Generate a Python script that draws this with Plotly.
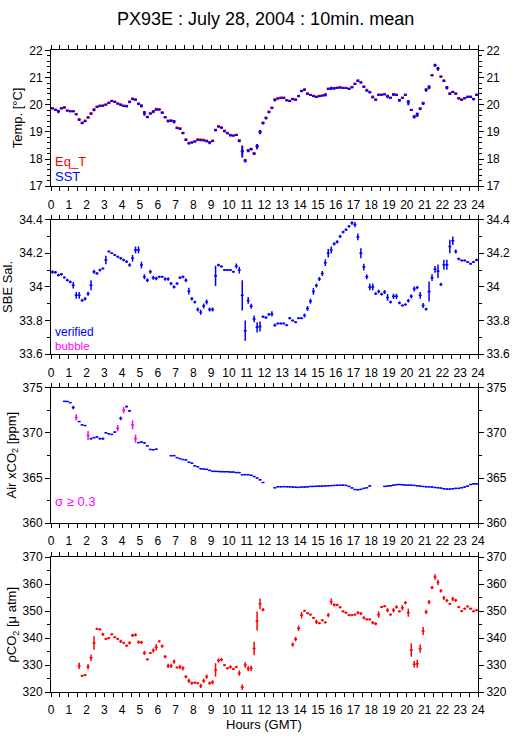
import plotly.graph_objects as go

# 10-minute means: bin centres in hours (GMT)
HOURS = [(i + 0.5) / 6 for i in range(144)]
HALF_BIN = 1 / 12

EQ_T = [19.88, 19.83, 19.78, 19.88, 19.92, 19.80, 19.77, 19.77, 19.66, 19.48, 19.35, 19.42,
        19.55, 19.70, 19.84, 19.94, 19.97, 19.98, 20.02, 20.08, 20.15, 20.12, 20.06, 20.02,
        19.97, 19.96, 20.12, 20.23, 20.20, 20.05, 19.98, 19.73, 19.56, 19.70, 19.77, 19.85,
        19.84, 19.72, 19.55, 19.42, 19.43, 19.40, 19.16, 19.14, 18.97, 18.73, 18.60, 18.63,
        18.67, 18.73, 18.72, 18.71, 18.68, 18.63, 18.68, 19.08, 19.22, 19.17, 19.05, 18.97,
        18.90, 18.88, 18.90, 18.70, 18.30, 17.97, 18.33, 18.38, 18.22, 18.48, 19.02, 19.35,
        19.53, 19.75, 19.90, 20.20, 20.25, 20.27, 20.27, 20.18, 20.15, 20.22, 20.20, 20.33,
        20.52, 20.57, 20.42, 20.37, 20.33, 20.30, 20.33, 20.35, 20.38, 20.60, 20.62, 20.62,
        20.64, 20.65, 20.63, 20.63, 20.60, 20.66, 20.78, 20.90, 20.84, 20.68, 20.55, 20.48,
        20.30, 20.20, 20.38, 20.38, 20.40, 20.33, 20.27, 20.40, 20.38, 20.18, 20.27, 20.38,
        20.12, 19.82, 19.58, 19.67, 19.87, 20.07, 20.57, 20.67, 21.10, 21.47, 21.35, 21.05,
        20.90, 20.65, 20.42, 20.48, 20.42, 20.25, 20.20, 20.25, 20.30, 20.30, 20.22, 20.38]

SST = [19.86, 19.81, 19.75, 19.86, 19.89, 19.78, 19.75, 19.75, 19.64, 19.44, 19.32, 19.39,
       19.52, 19.66, 19.80, 19.91, 19.95, 19.96, 20.00, 20.06, 20.13, 20.10, 20.04, 19.99,
       19.95, 19.94, 20.10, 20.21, 20.18, 20.03, 19.95, 19.68, 19.54, 19.67, 19.74, 19.82,
       19.82, 19.70, 19.53, 19.39, 19.41, 19.37, 19.14, 19.11, 18.95, 18.70, 18.57, 18.60,
       18.64, 18.70, 18.69, 18.68, 18.65, 18.60, 18.66, 19.06, 19.19, 19.15, 19.02, 18.94,
       18.87, 18.86, 18.88, 18.66, 18.28, 17.93, 18.30, 18.36, 18.19, 18.46, 18.99, 19.32,
       19.50, 19.72, 19.87, 20.17, 20.22, 20.25, 20.25, 20.16, 20.13, 20.20, 20.18, 20.31,
       20.50, 20.55, 20.40, 20.35, 20.31, 20.28, 20.31, 20.33, 20.36, 20.58, 20.60, 20.60,
       20.62, 20.63, 20.61, 20.61, 20.58, 20.64, 20.76, 20.87, 20.81, 20.65, 20.52, 20.45,
       20.27, 20.18, 20.36, 20.36, 20.38, 20.30, 20.25, 20.37, 20.36, 20.16, 20.25, 20.36,
       20.08, 19.80, 19.55, 19.63, 19.85, 20.04, 20.54, 20.64, 21.08, 21.45, 21.32, 21.03,
       20.87, 20.62, 20.40, 20.46, 20.40, 20.23, 20.18, 20.23, 20.28, 20.28, 20.20, 20.36]

SST_STD = [0.03, 0.03, 0.06, 0.03, 0.03, 0.03, 0.03, 0.03, 0.03, 0.04, 0.04, 0.03,
           0.03, 0.04, 0.04, 0.03, 0.03, 0.03, 0.03, 0.03, 0.03, 0.03, 0.03, 0.03,
           0.03, 0.03, 0.04, 0.04, 0.03, 0.04, 0.05, 0.08, 0.04, 0.03, 0.05, 0.04,
           0.03, 0.04, 0.03, 0.04, 0.04, 0.06, 0.03, 0.04, 0.04, 0.03, 0.03, 0.03,
           0.03, 0.03, 0.03, 0.03, 0.03, 0.05, 0.03, 0.04, 0.03, 0.04, 0.03, 0.03,
           0.04, 0.03, 0.03, 0.04, 0.22, 0.06, 0.05, 0.04, 0.04, 0.10, 0.08, 0.05,
           0.04, 0.03, 0.03, 0.05, 0.03, 0.03, 0.03, 0.03, 0.03, 0.03, 0.03, 0.03,
           0.04, 0.04, 0.03, 0.03, 0.03, 0.03, 0.03, 0.03, 0.06, 0.04, 0.06, 0.05,
           0.03, 0.03, 0.03, 0.03, 0.03, 0.03, 0.03, 0.03, 0.03, 0.03, 0.04, 0.03,
           0.03, 0.03, 0.04, 0.03, 0.03, 0.06, 0.03, 0.05, 0.03, 0.05, 0.03, 0.03,
           0.10, 0.03, 0.06, 0.08, 0.05, 0.05, 0.06, 0.07, 0.03, 0.05, 0.07, 0.03,
           0.03, 0.06, 0.04, 0.03, 0.03, 0.04, 0.03, 0.03, 0.03, 0.03, 0.04, 0.03]

SAL = [34.089, 34.087, 34.070, 34.075, 34.056, 34.040, 34.030, 34.010, 33.950, 33.950, 33.920, 33.930,
       33.960, 34.010, 34.090, 34.080, 34.100, 34.110, 34.160, 34.210, 34.200, 34.190, 34.180, 34.170,
       34.160, 34.150, 34.130, 34.170, 34.220, 34.220, 34.130, 34.060, 34.040, 34.090, 34.055, 34.050,
       34.060, 34.060, 34.047, 34.047, 34.020, 34.000, 34.020, 34.055, 34.060, 34.040, 33.975, 33.930,
       33.910, 33.866, 33.850, 33.887, 33.910, 33.866, 33.866, 34.066, 34.130, 34.122, 34.100, 34.100,
       34.100, 34.090, 34.124, 34.100, 33.950, 33.740, 33.920, 33.885, 33.810, 33.760, 33.765, 33.823,
       33.818, 33.837, 33.840, 33.773, 33.783, 33.783, 33.783, 33.773, 33.814, 33.800, 33.790, 33.814,
       33.814, 33.830, 33.872, 33.915, 33.973, 34.008, 34.047, 34.080, 34.144, 34.200, 34.220, 34.256,
       34.268, 34.300, 34.326, 34.340, 34.360, 34.380, 34.370, 34.297, 34.200, 34.118, 34.060, 34.000,
       34.000, 33.960, 33.973, 33.957, 33.970, 33.938, 33.910, 33.944, 33.944, 33.905, 33.890, 33.895,
       33.918, 33.944, 33.988, 33.996, 33.950, 33.890, 33.868, 33.973, 34.055, 34.105, 34.093, 34.015,
       34.132, 34.132, 34.240, 34.274, 34.210, 34.167, 34.157, 34.157, 34.148, 34.138, 34.148, 34.160]

SAL_STD = [0.010, 0.008, 0.008, 0.008, 0.006, 0.008, 0.008, 0.020, 0.020, 0.020, 0.008, 0.010,
           0.012, 0.030, 0.012, 0.008, 0.008, 0.006, 0.025, 0.006, 0.004, 0.006, 0.006, 0.008,
           0.008, 0.008, 0.010, 0.020, 0.020, 0.020, 0.020, 0.015, 0.012, 0.012, 0.012, 0.010,
           0.006, 0.006, 0.010, 0.010, 0.010, 0.010, 0.008, 0.008, 0.008, 0.012, 0.020, 0.010,
           0.008, 0.012, 0.015, 0.015, 0.015, 0.012, 0.012, 0.060, 0.008, 0.006, 0.006, 0.006,
           0.006, 0.006, 0.015, 0.020, 0.090, 0.060, 0.020, 0.015, 0.020, 0.030, 0.030, 0.008,
           0.008, 0.008, 0.015, 0.010, 0.006, 0.006, 0.006, 0.006, 0.008, 0.006, 0.006, 0.006,
           0.006, 0.012, 0.015, 0.015, 0.020, 0.012, 0.012, 0.015, 0.020, 0.025, 0.020, 0.010,
           0.010, 0.010, 0.008, 0.008, 0.008, 0.010, 0.015, 0.020, 0.030, 0.020, 0.015, 0.020,
           0.020, 0.008, 0.010, 0.008, 0.012, 0.020, 0.008, 0.015, 0.015, 0.008, 0.006, 0.006,
           0.010, 0.012, 0.015, 0.010, 0.020, 0.015, 0.008, 0.060, 0.020, 0.020, 0.040, 0.010,
           0.030, 0.030, 0.040, 0.025, 0.012, 0.008, 0.006, 0.006, 0.006, 0.006, 0.006, 0.008]

N = None
XCO2 = [N, N, N, N, 373.51, 373.50, 373.37, 372.82, 371.73, 371.26, 370.90, 370.82,
        369.73, 369.37, 369.48, 369.55, 369.37, 369.37, 370.02, 369.91, 369.84, 370.10, 370.53, 371.62,
        372.53, 372.93, 372.46, 370.90, 369.37, 368.93, 369.00, 368.90, 368.57, 368.17, 368.14, 368.20,
        N, N, N, N, 367.48, 367.48, 367.26, 367.15, 367.05, 367.01, 366.75, 366.65,
        366.36, 366.25, 366.03, 365.99, 365.96, 365.85, 365.74, 365.74, 365.72, 365.70, 365.70, 365.70,
        365.66, 365.66, 365.60, 365.60, 365.37, 365.37, 365.37, 365.30, 365.16, 365.00, 364.80, 364.50,
        N, N, N, 363.92, 364.03, 364.03, 364.04, 364.03, 364.02, 364.00, 363.98, 363.96,
        364.00, 364.00, 364.02, 364.06, 364.07, 364.08, 364.10, 364.10, 364.12, 364.14, 364.15, 364.18,
        364.19, 364.20, 364.21, 364.18, 364.07, 363.90, 363.72, 363.70, 363.74, 363.85, 363.92, 364.12,
        N, N, N, N, 364.07, 364.10, 364.14, 364.20, 364.26, 364.28, 364.25, 364.22,
        364.21, 364.20, 364.18, 364.14, 364.10, 364.06, 364.03, 364.02, 364.00, 363.95, 363.92, 363.88,
        363.80, 363.78, 363.78, 363.80, 363.85, 363.85, 363.92, 364.00, 364.10, 364.28, 364.35, 364.35]

XCO2_STD = [N, N, N, N, 0.05, 0.05, 0.05, 0.20, 0.35, 0.05, 0.05, 0.05,
            0.50, 0.10, 0.05, 0.05, 0.10, 0.12, 0.05, 0.05, 0.05, 0.05, 0.35, 0.20,
            0.35, 0.10, 0.10, 0.50, 0.45, 0.05, 0.05, 0.05, 0.05, 0.05, 0.05, 0.05,
            N, N, N, N, 0.05, 0.05, 0.05, 0.05, 0.05, 0.05, 0.05, 0.05,
            0.05, 0.05, 0.05, 0.05, 0.05, 0.05, 0.05, 0.05, 0.05, 0.05, 0.05, 0.05,
            0.05, 0.05, 0.05, 0.05, 0.05, 0.05, 0.05, 0.05, 0.05, 0.05, 0.05, 0.05,
            N, N, N, 0.05, 0.05, 0.05, 0.05, 0.05, 0.05, 0.05, 0.05, 0.05,
            0.05, 0.05, 0.05, 0.05, 0.05, 0.05, 0.05, 0.05, 0.05, 0.05, 0.05, 0.05,
            0.05, 0.05, 0.05, 0.05, 0.05, 0.05, 0.05, 0.05, 0.05, 0.05, 0.05, 0.05,
            N, N, N, N, 0.05, 0.05, 0.05, 0.05, 0.05, 0.05, 0.05, 0.05,
            0.05, 0.05, 0.05, 0.05, 0.05, 0.05, 0.05, 0.05, 0.05, 0.05, 0.05, 0.05,
            0.05, 0.05, 0.05, 0.05, 0.05, 0.05, 0.05, 0.05, 0.05, 0.05, 0.05, 0.05]
SIGMA_LIMIT = 0.3

PCO2 = [N, N, N, N, N, N, N, N, N, 329.7, 326.05, 326.3,
        329.4, 332.7, 338.2, 343.4, 343.2, 341.4, 339.7, 340.0, 341.4, 340.3, 339.7, 338.8,
        338.2, 337.2, 338.2, 341.0, 341.2, 338.5, 338.4, 334.5, 332.1, 334.5, 335.4, 336.6,
        338.8, 337.0, 333.1, 329.7, 329.7, 331.3, 329.1, 329.3, 328.8, 325.7, 324.2, 323.3,
        323.5, 323.3, 322.3, 324.2, 325.7, 323.3, 323.6, 328.2, 331.7, 332.0, 330.0, 328.8,
        329.3, 328.5, 329.3, 327.0, 321.8, 330.0, 328.7, 328.8, 336.1, 346.3, 352.7, 350.5,
        N, N, N, N, N, N, N, N, N, 337.6, 339.6, 343.6,
        348.5, 350.1, 349.2, 348.7, 347.5, 346.0, 345.5, 346.6, 345.8, 348.5, 353.5, 352.3,
        352.3, 351.4, 349.9, 349.4, 348.5, 348.5, 348.7, 349.4, 349.1, 347.5, 346.9, 346.9,
        345.7, 345.3, 348.7, 351.5, 351.8, 350.3, 348.7, 350.3, 351.5, 349.9, 351.2, 353.1,
        349.4, 335.6, 330.3, 330.5, 336.1, 342.6, 349.7, 353.3, 358.7, 362.6, 360.6, 357.5,
        354.9, 353.9, 352.7, 354.5, 354.0, 351.5, 350.0, 350.9, 351.7, 350.9, 349.9, 350.3]

PCO2_STD = [N, N, N, N, N, N, N, N, N, 1.2, 0.4, 0.4,
            1.0, 1.2, 2.5, 0.4, 0.4, 0.6, 0.4, 0.4, 0.4, 0.4, 0.4, 0.6,
            0.4, 0.4, 0.6, 0.6, 0.6, 0.6, 0.6, 0.8, 0.4, 0.4, 0.8, 1.2,
            0.4, 0.6, 0.6, 0.8, 0.8, 0.8, 0.4, 0.8, 0.8, 0.6, 0.8, 0.6,
            0.4, 0.4, 0.8, 0.8, 0.8, 0.6, 0.8, 2.5, 0.8, 0.6, 0.4, 0.4,
            0.6, 0.4, 0.4, 1.0, 1.0, 1.0, 1.0, 1.0, 2.5, 3.5, 2.0, 0.6,
            N, N, N, N, N, N, N, N, N, 0.8, 0.8, 1.0,
            1.2, 0.4, 0.4, 0.4, 0.4, 0.8, 0.4, 0.4, 0.4, 0.8, 1.2, 0.6,
            0.4, 0.4, 0.4, 0.4, 0.4, 0.4, 0.4, 0.6, 0.6, 0.6, 0.4, 0.4,
            0.6, 0.6, 1.2, 0.4, 0.4, 0.8, 0.4, 0.8, 0.6, 0.4, 1.0, 0.6,
            1.5, 2.5, 1.2, 1.5, 1.5, 1.5, 0.8, 0.8, 0.6, 1.0, 1.0, 0.6,
            0.8, 0.6, 0.4, 0.8, 0.6, 0.4, 0.4, 0.4, 0.4, 0.4, 0.4, 0.4]

X_TICKS = list(range(0, 25))
PANELS = [
    dict(range=[17, 22], dtick=1, minor=0.2, title="Temp. [°C]", title_x=17),
    dict(range=[33.6, 34.4], dtick=0.2, minor=0.1, title="SBE Sal.", title_x=8),
    dict(range=[360, 375], dtick=5, minor=2.5, title="Air xCO<sub>2</sub> [ppm]", title_x=12),
    dict(range=[320, 370], dtick=10, minor=5, title="ρCO<sub>2</sub> [μ atm]", title_x=13),
]

RED, BLUE, MAGENTA = "#ff0000", "#0000ff", "#ff00ff"
FONT = "Liberation Sans, Arial, sans-serif"
W, H = 515, 739
L, R = 51, 37
PANEL_PX = [(44.3, 182.7), (216.7, 354.0), (388.3, 526.0), (560.7, 698.3)]


def crosses(x, y, color, yerr=None, axis=1, xthick=1.5, ythick=1.5):
    tr = dict(
        x=x, y=y, mode="markers", showlegend=False, hoverinfo="skip",
        marker=dict(size=1, color=color),
        error_x=dict(type="constant", value=HALF_BIN, width=0, thickness=xthick, color=color),
        xaxis="x" if axis == 1 else f"x{axis}",
        yaxis="y" if axis == 1 else f"y{axis}",
    )
    if yerr is not None:
        tr["error_y"] = dict(type="data", array=yerr, width=0, thickness=ythick, color=color)
    return go.Scatter(**tr)


fig = go.Figure()
fig.add_trace(crosses(HOURS, EQ_T, RED, axis=1, xthick=2))
fig.add_trace(crosses(HOURS, SST, BLUE, SST_STD, axis=1, xthick=1.5, ythick=2))
fig.add_trace(crosses(HOURS, SAL, BLUE, SAL_STD, axis=2))

ok_v = [v if (s is not None and s < SIGMA_LIMIT) else None for v, s in zip(XCO2, XCO2_STD)]
ok_s = [s if (s is not None and s < SIGMA_LIMIT) else None for s in XCO2_STD]
bad_v = [v if (s is not None and s >= SIGMA_LIMIT) else None for v, s in zip(XCO2, XCO2_STD)]
bad_s = [s if (s is not None and s >= SIGMA_LIMIT) else None for s in XCO2_STD]
fig.add_trace(crosses(HOURS, ok_v, BLUE, ok_s, axis=3))
fig.add_trace(crosses(HOURS, bad_v, MAGENTA, bad_s, axis=3))
fig.add_trace(crosses(HOURS, PCO2, RED, PCO2_STD, axis=4))

layout = dict(
    width=W, height=H, margin=dict(l=L, r=R, t=0, b=0),
    paper_bgcolor="white", plot_bgcolor="white",
    font=dict(family=FONT, size=12, color="black"),
    showlegend=False,
)
annotations = []
for k, p in enumerate(PANELS, start=1):
    top, bot = PANEL_PX[k - 1]
    dom = [(H - bot) / H, (H - top) / H]
    sx = "" if k == 1 else str(k)
    layout[f"xaxis{sx}"] = dict(
        domain=[0, 1], anchor=f"y{sx}", range=[0, 24], tickmode="array",
        tickvals=X_TICKS, ticktext=[str(t) for t in X_TICKS],
        ticks="outside", ticklen=4, tickwidth=1, tickcolor="black",
        showline=True, linecolor="black", linewidth=1, mirror="ticks",
        showgrid=False, zeroline=False, ticklabelstandoff=3,
        minor=dict(dtick=0.5, tick0=0, ticks="outside", ticklen=4, tickcolor="black", showgrid=False),
        tickfont=dict(size=12),
    )
    yax = dict(
        domain=dom, anchor=f"x{sx}", range=p["range"], dtick=p["dtick"], tick0=p["range"][0],
        ticks="outside", ticklen=5, tickwidth=1, tickcolor="black",
        showgrid=False, zeroline=False, tickfont=dict(size=12),
        minor=dict(dtick=p["minor"], tick0=p["range"][0], ticks="outside", ticklen=3,
                   tickcolor="black", showgrid=False),
    )
    left = dict(yax, showline=True, linecolor="black", linewidth=1, mirror=True, side="left")
    layout[f"yaxis{sx}"] = left
    rid = k + 4
    right = dict(yax, side="right", overlaying=f"y{sx}", showline=False)
    right.pop("domain")
    layout[f"yaxis{rid}"] = right
    fig.add_trace(go.Scatter(x=[], y=[], xaxis=f"x{sx}", yaxis=f"y{rid}", showlegend=False))
    annotations.append(dict(
        text=p["title"], textangle=-90, xref="paper", yref="paper",
        x=(p["title_x"] - L) / (W - L - R), y=(H - (top + bot) / 2) / H,
        xanchor="center", yanchor="middle", showarrow=False, font=dict(size=13),
    ))

PW = W - L - R


def note(text, color, ypx, xpx=54, size=12):
    return dict(text=text, xref="paper", yref="paper", x=(xpx - L) / PW, y=(H - ypx) / H,
                xanchor="left", yanchor="middle", showarrow=False,
                font=dict(size=size, color=color), borderpad=0)


annotations += [
    note("Eq_T", RED, 157.7, size=13), note("SST", BLUE, 172.7, size=13),
    note("verified", BLUE, 331.0), note("bubble", MAGENTA, 346.0, size=11.5),
    note("σ ≥ 0.3", MAGENTA, 504.3, size=13),
    dict(text="PX93E : July 28, 2004 : 10min. mean", xref="paper", yref="paper",
         x=(265 - L) / PW, y=(H - 12) / H, xanchor="center", yanchor="middle",
         showarrow=False, font=dict(size=18)),
    dict(text="Hours (GMT)", xref="paper", yref="paper", x=(264 - L) / PW, y=(H - 731) / H,
         xanchor="center", yanchor="middle", showarrow=False, font=dict(size=13)),
]
layout["annotations"] = annotations
fig.update_layout(**layout)
fig.write_html("out.html", config={"displayModeBar": False},
               post_script="document.body.style.margin='0';")
